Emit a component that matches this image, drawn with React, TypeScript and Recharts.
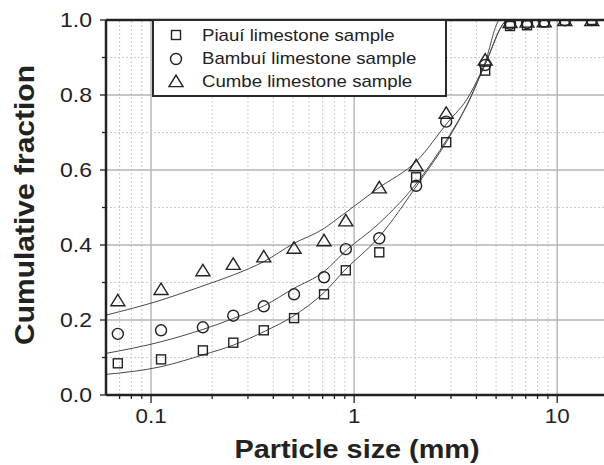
import { ComposedChart, Scatter, Line, XAxis, YAxis, ReferenceLine, Legend, Label } from "recharts";

// sieve sizes (mm), shared by the three samples
const sizes = [0.0686, 0.112, 0.18, 0.254, 0.359, 0.506, 0.711, 0.91, 1.33, 2.02, 2.84, 4.42, 5.86, 7.1, 8.63, 10.9, 14.8];
const piaui = [0.0845, 0.095, 0.119, 0.1395, 0.1725, 0.205, 0.2685, 0.3325, 0.3805, 0.5805, 0.674, 0.865, 0.984, 0.986, 0.994, 0.998, 1.0];
const bambui = [0.163, 0.1725, 0.1805, 0.2115, 0.2365, 0.2685, 0.314, 0.389, 0.418, 0.558, 0.729, 0.88, 0.99, 0.992, 0.996, 0.999, 1.0];
const cumbe = [0.253, 0.283, 0.333, 0.35, 0.37, 0.393, 0.413, 0.466, 0.554, 0.613, 0.753, 0.895, 0.995, 0.996, 0.997, 1.0, 1.0];

// fitted curves
const piauiFitX = [0.06, 0.112, 0.18, 0.254, 0.36, 0.5, 0.71, 0.9, 1.31, 2.1, 2.85, 3.7, 4.4, 5.75, 17];
const piauiFitY = [0.055, 0.0755, 0.107, 0.133, 0.169, 0.21, 0.273, 0.333, 0.418, 0.569, 0.675, 0.787, 0.88, 1.0, 1.0];
const bambuiFitX = [0.06, 0.112, 0.18, 0.254, 0.36, 0.5, 0.71, 0.92, 1.31, 2.1, 2.85, 3.7, 4.4, 5.75, 17];
const bambuiFitY = [0.111, 0.142, 0.175, 0.204, 0.238, 0.283, 0.329, 0.387, 0.455, 0.575, 0.68, 0.787, 0.88, 1.0, 1.0];
const cumbeFitX = [0.06, 0.112, 0.18, 0.254, 0.36, 0.5, 0.71, 0.79, 1.31, 2.04, 2.87, 3.7, 4.4, 5.24, 17];
const cumbeFitY = [0.213, 0.253, 0.291, 0.32, 0.356, 0.403, 0.444, 0.462, 0.551, 0.625, 0.725, 0.8, 0.885, 1.0, 1.0];

const xTicks = [0.07, 0.08, 0.09, 0.1, 0.2, 0.3, 0.4, 0.5, 0.6, 0.7, 0.8, 0.9, 1, 2, 3, 4, 5, 6, 7, 8, 9, 10];
const xMajor = [0.1, 1, 10];
const yTicks = [0, 0.1, 0.2, 0.3, 0.4, 0.5, 0.6, 0.7, 0.8, 0.9, 1.0];
const yMajor = [0, 0.2, 0.4, 0.6, 0.8, 1.0];

const legendNames = ["Piauí limestone sample", "Bambuí limestone sample", "Cumbe limestone sample"];

const FONT = "'Liberation Sans', Arial, sans-serif";
const INK = "#222";

const toPts = (xs: number[], ys: number[]) => xs.map((x, i) => ({ x, y: ys[i] }));

const Square = ({ cx, cy }: any) => (
  <rect x={cx - 4.5} y={cy - 4.5} width={9} height={9} fill="none" stroke={INK} strokeWidth={1.4} />
);
const Circle = ({ cx, cy }: any) => (
  <circle cx={cx} cy={cy} r={5.5} fill="none" stroke={INK} strokeWidth={1.4} />
);
const Triangle = ({ cx, cy }: any) => (
  <path d={`M${cx},${cy - 5.8} L${cx + 7},${cy + 5.6} L${cx - 7},${cy + 5.6} Z`} fill="none" stroke={INK} strokeWidth={1.4} />
);

const XTick = ({ x, y, payload }: any) => {
  const v = payload.value;
  const major = xMajor.includes(v);
  return (
    <g>
      <line x1={x} x2={x} y1={y} y2={y + (major ? 8 : 4)} stroke={INK} strokeWidth={1.3} />
      {major && (
        <text transform={`translate(${x},${y + 28}) scale(1.12,1)`} textAnchor="middle" fontSize={20} fill={INK} fontFamily={FONT}>
          {v}
        </text>
      )}
    </g>
  );
};

const YTick = ({ x, y, payload }: any) => {
  const v = payload.value;
  const major = yMajor.includes(v);
  return (
    <g>
      <line x1={x} x2={x - (major ? 6 : 4)} y1={y} y2={y} stroke={INK} strokeWidth={1.3} />
      {major && (
        <text transform={`translate(${x - 14},${y + 7}) scale(1.15,1)`} textAnchor="end" fontSize={20} fill={INK} fontFamily={FONT}>
          {v.toFixed(1)}
        </text>
      )}
    </g>
  );
};

const renderLegend = () => (
  <svg width={296} height={78} style={{ display: "block" }}>
    <rect x={1} y={1} width={293} height={76} fill="#fff" stroke="#2a2a2a" strokeWidth={2} />
    <Square cx={24} cy={16} />
    <Circle cx={24} cy={40} />
    <Triangle cx={24} cy={62} />
    {legendNames.map((name, i) => (
      <text key={name} transform={`translate(50,${21.5 + i * 23.3}) scale(1.165,1)`} fontSize={16} fill={INK} fontFamily={FONT}>
        {name}
      </text>
    ))}
  </svg>
);

export default function App() {
  return (
    <div style={{ position: "absolute", left: 0, top: 0, width: 604, height: 465, background: "#fff" }}>
      <ComposedChart width={604} height={465} margin={{ top: 20, right: 0, bottom: 0, left: 0 }}>
        <XAxis
          dataKey="x"
          type="number"
          scale="log"
          domain={[0.06, 17]}
          allowDataOverflow
          ticks={xTicks}
          interval={0}
          tick={<XTick />}
          tickLine={false}
          tickSize={0}
          tickMargin={0}
          height={70}
          axisLine={{ stroke: INK, strokeWidth: 2.5 }}
        >
          <Label
            content={() => (
              <text x={357} y={458} textAnchor="middle" fontSize={25} fontWeight="bold" fill={INK} fontFamily={FONT} textLength={245} lengthAdjust="spacingAndGlyphs">
                Particle size (mm)
              </text>
            )}
          />
        </XAxis>
        <YAxis
          type="number"
          domain={[0, 1]}
          allowDataOverflow
          ticks={yTicks}
          interval={0}
          tick={<YTick />}
          tickLine={false}
          tickSize={0}
          tickMargin={0}
          width={106}
          axisLine={{ stroke: INK, strokeWidth: 2.5 }}
        >
          <Label
            content={() => (
              <text x={34} y={205} transform="rotate(-90,34,205)" textAnchor="middle" fontSize={28} fontWeight="bold" fill={INK} fontFamily={FONT} textLength={280} lengthAdjust="spacingAndGlyphs">
                Cumulative fraction
              </text>
            )}
          />
        </YAxis>

        {xTicks.map((v) => (
          <ReferenceLine
            key={"gx" + v}
            x={v}
            stroke={xMajor.includes(v) ? "#b4b4b4" : "#cccccc"}
            strokeWidth={xMajor.includes(v) ? 1.4 : 1}
            strokeDasharray={xMajor.includes(v) ? undefined : "2 2"}
          />
        ))}
        {yTicks.slice(1, -1).map((v) => (
          <ReferenceLine
            key={"gy" + v}
            y={v}
            stroke={yMajor.includes(v) ? "#b4b4b4" : "#cccccc"}
            strokeWidth={yMajor.includes(v) ? 1.4 : 1}
            strokeDasharray={yMajor.includes(v) ? undefined : "2 2"}
          />
        ))}

        <Line data={toPts(piauiFitX, piauiFitY)} dataKey="y" type="monotone" dot={false} activeDot={false} stroke="#4a4a4a" strokeWidth={1} isAnimationActive={false} legendType="none" />
        <Line data={toPts(bambuiFitX, bambuiFitY)} dataKey="y" type="monotone" dot={false} activeDot={false} stroke="#4a4a4a" strokeWidth={1} isAnimationActive={false} legendType="none" />
        <Line data={toPts(cumbeFitX, cumbeFitY)} dataKey="y" type="monotone" dot={false} activeDot={false} stroke="#4a4a4a" strokeWidth={1} isAnimationActive={false} legendType="none" />

        <Scatter name={legendNames[0]} data={toPts(sizes, piaui)} dataKey="y" shape={<Square />} isAnimationActive={false} />
        <Scatter name={legendNames[1]} data={toPts(sizes, bambui)} dataKey="y" shape={<Circle />} isAnimationActive={false} />
        <Scatter name={legendNames[2]} data={toPts(sizes, cumbe)} dataKey="y" shape={<Triangle />} isAnimationActive={false} />

        <ReferenceLine y={1} stroke={INK} strokeWidth={2.5} />

        <Legend
          layout="vertical"
          align="center"
          verticalAlign="middle"
          content={renderLegend}
          wrapperStyle={{ left: 152, top: 19, width: 296, height: 78 }}
        />
      </ComposedChart>
    </div>
  );
}
